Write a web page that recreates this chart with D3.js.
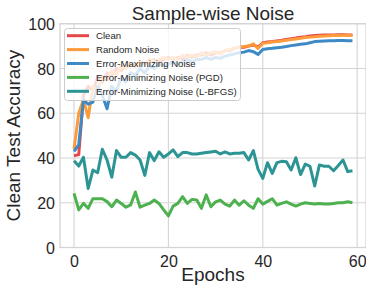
<!DOCTYPE html>
<html><head><meta charset="utf-8">
<script src="https://cdn.jsdelivr.net/npm/d3@7"></script>
<style>body{margin:0;background:#fff}svg{display:block}text{font-family:"Liberation Sans",Arial,sans-serif;fill:#262626}</style>
</head><body>
<svg id="c" width="366" height="286"></svg>
<script>
const epochs = d3.range(0, 60);
const seriesNames = ["Clean","Random Noise","Error-Maximizing Noise","Error-Minimizing Noise (PGD)","Error-Minimizing Noise (L-BFGS)"];
const seriesColors = ["#e5474b","#fd9a3b","#3d8ac6","#4db14f","#2d9494"];
const clean = [41,41.5,68,72,70,76,74,78,77,80,79,81,82,81,83,82,83,84,83,84,85,84,85,84,86,85,86,86,87,86,87,87,88,88,89,89.5,89.5,90,90.5,89.5,91.5,91.8,92,92.3,92.6,93,93.3,93.6,94,94.2,94.5,94.7,94.8,94.9,95,95,95.1,95.1,95,95];
const randomNoise = [44,60,66,58,72,70,76,75,79,77,81,80,82,81,83,82,84,83,84,85,84,85,84,86,85,86,85,87,86,87,87.5,86.5,88,88.5,89,89.5,89.8,90,91,89,91.3,91.5,91.8,92,92.3,92.6,92.9,93.2,93.5,93.8,94,94.2,94.4,94.5,94.6,94.7,94.7,94.8,94.8,94.7];
const errMax = [43,46,66,64,65,72,68,62,72,70,76,74,78,77,80,78,81,80,82,81,82,83,82,83,84,83,84,84,85,84,85,84.5,85.5,86,86.5,87,87.3,88,87.5,86.3,88.5,88.8,89,89.3,89.5,89.8,90.2,90.5,90.8,91,91.5,92,92.2,92.3,92.4,92.4,92.5,92.5,92.4,92.4];
const errMinPGD = [24.2,16.8,19.7,17.5,21.8,21.8,21.8,20.5,18.2,21.2,19.7,18.0,19.0,24.8,18.0,18.9,19.7,21.2,19.7,16.8,14.1,18.5,19.7,22.7,19.7,21.5,21.2,17.5,23.5,18.2,20.4,21.2,19.4,18.5,21.2,18.9,20.9,18.9,17.5,21.8,19.4,20.6,21.8,19.0,19.7,20.4,19.4,18.5,19.4,20.0,19.7,19.4,19.7,19.4,19.4,19.7,20.0,20.0,20.4,20.0];
const errMinLBFGS = [38.8,36.4,40.3,26.4,34.6,33.4,43.9,39.1,31.4,43.3,40.3,40.3,42.4,41.3,39.1,32.2,42.4,38.8,42.8,40.3,41.8,43.6,40.6,42.4,42.4,41.8,41.8,42.1,42.4,42.7,43.0,41.8,42.7,41.8,42.1,42.1,42.4,39.1,43.3,34.9,30.9,37.9,33.1,37.9,38.5,38.3,34.6,40.1,32.6,37.3,36.3,27.5,36.9,36.3,36.3,34.3,36.6,39.1,33.9,34.3];
const xTicks = [0,20,40,60];
const yTicks = [0,20,40,60,80,100];

const allSeries = [clean, randomNoise, errMax, errMinPGD, errMinLBFGS];
const svg = d3.select("#c");
const L = 60, R = 366, T = 23.7, B = 247.5;
const x = d3.scaleLinear().domain([-2.97, 61.87]).range([L, R]);
const y = d3.scaleLinear().domain([0, 100]).range([B, T]);
const grid = "#d4d4d4";

// grid
svg.append("g").selectAll("line").data(xTicks).join("line")
  .attr("x1", d=>x(d)).attr("x2", d=>x(d)).attr("y1", T).attr("y2", B)
  .attr("stroke", grid).attr("stroke-width", 1.1);
svg.append("g").selectAll("line").data(yTicks).join("line")
  .attr("x1", L).attr("x2", R).attr("y1", d=>y(d)).attr("y2", d=>y(d))
  .attr("stroke", grid).attr("stroke-width", 1.1);
// frame
svg.append("rect").attr("x", L).attr("y", T).attr("width", R-L).attr("height", B-T)
  .attr("fill", "none").attr("stroke", grid).attr("stroke-width", 1.3);

// axes via d3
const xAxis = svg.append("g").attr("transform", `translate(0,${B})`)
  .call(d3.axisBottom(x).tickValues(xTicks).tickSize(0).tickPadding(8));
const yAxis = svg.append("g").attr("transform", `translate(${L},0)`)
  .call(d3.axisLeft(y).tickValues(yTicks).tickSize(0).tickPadding(5));
[xAxis, yAxis].forEach(a => {
  a.select(".domain").remove();
  a.selectAll("text").attr("font-size", 16).attr("font-family", '"Liberation Sans", Arial, sans-serif').attr("fill", "#262626");
});
yAxis.selectAll("text").attr("dy", "0.36em");

// lines
const line = d3.line().x((d,i)=>x(epochs[i])).y(d=>y(d));
const plot = svg.append("g");
allSeries.forEach((s, k) => {
  plot.append("path").datum(s).attr("d", line).attr("fill", "none")
    .attr("stroke", seriesColors[k]).attr("stroke-width", 3).attr("stroke-linejoin", "round");
});

// title & labels
svg.append("text").attr("x", 213).attr("y", 20).attr("text-anchor", "middle").attr("font-size", 19).text("Sample-wise Noise");
svg.append("text").attr("x", 213).attr("y", 281).attr("text-anchor", "middle").attr("font-size", 19).text("Epochs");
svg.append("text").attr("transform", `translate(20,${(T+B)/2}) rotate(-90)`).attr("text-anchor", "middle").attr("font-size", 19).text("Clean Test Accuracy");

// legend
const lg = svg.append("g");
lg.append("rect").attr("x", 64.5).attr("y", 28.5).attr("width", 176).attr("height", 72).attr("rx", 3)
  .attr("fill", "rgba(255,255,255,0.8)").attr("stroke", "#cccccc").attr("stroke-width", 1);
seriesNames.forEach((n, k) => {
  const yy = 35.7 + k * 13.9;
  lg.append("line").attr("x1", 67).attr("x2", 89).attr("y1", yy).attr("y2", yy)
    .attr("stroke", seriesColors[k]).attr("stroke-width", 3);
  lg.append("text").attr("x", 96).attr("y", yy).attr("dy", "0.35em").attr("font-size", 9.6).text(n);
});
</script>
</body></html>
